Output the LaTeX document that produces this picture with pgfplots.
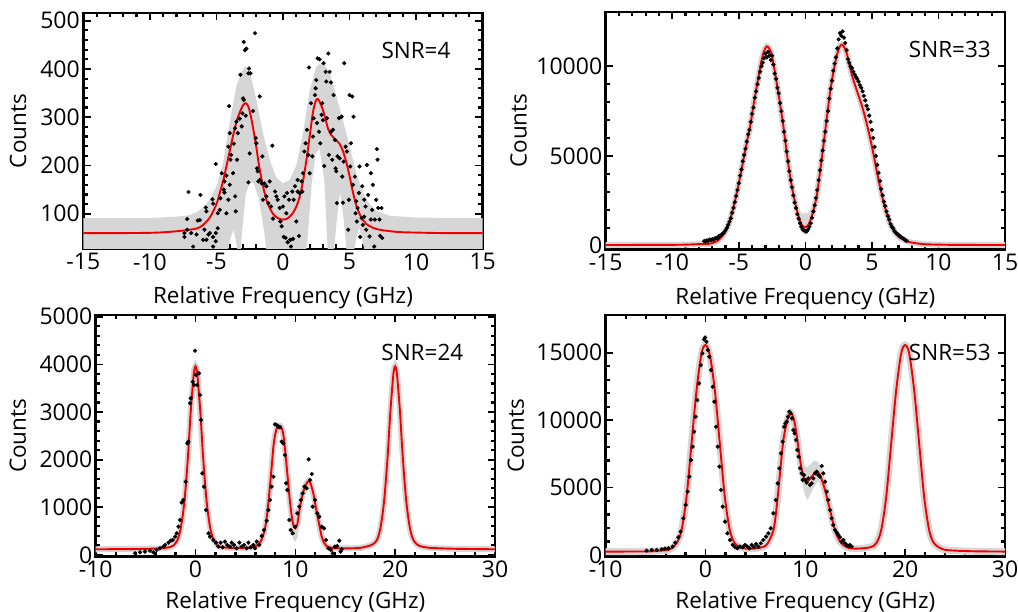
\documentclass[border=0pt]{standalone}
\usepackage{fontspec}
\setmainfont{Open Sans}[Numbers={Lining,Monospaced}]
\usepackage{pgfplots}
\pgfplotsset{compat=1.18}
\definecolor{band}{RGB}{214,214,214}
\definecolor{fitred}{RGB}{240,0,0}
\tikzset{snr/.style={font=\fontsize{22.5}{26}\selectfont}}
\pgfplotsset{
 panel/.style={
  scale only axis,
  axis line style={line width=2.9pt},
  major tick style={black, line width=1.7pt},
  minor tick style={black, line width=2.2pt},
  major tick length=7.5pt, minor tick length=4.5pt,
  minor tick num=4,
  tick align=inside, xtick pos=both, ytick pos=both,
  xticklabel style={font=\fontsize{23}{27}\selectfont, yshift=-1pt},
  yticklabel style={font=\fontsize{23}{27}\selectfont},
  label style={font=\fontsize{22.5}{26}\selectfont},
  xlabel={Relative Frequency (GHz)}, ylabel={Counts},
  scaled ticks=false,
 },
 pts/.style={only marks, mark=*, mark size=1.9pt, black},
 fit/.style={fitred, line width=1.9pt, no marks, smooth},
 halo/.style={band, line width=6pt, no marks, smooth},
}
\begin{document}
\begin{tikzpicture}
\useasboundingbox (0,0) rectangle (1018pt,612pt);
% ---------------- top left: SNR=4
\begin{axis}[panel, at={(83.3pt,363pt)}, anchor=south west, width=399.4pt, height=236pt,
  xmin=-15, xmax=15, ymin=27, ymax=516,
  xlabel style={at={(axis description cs:0.5,0)}, anchor=north, yshift=-34pt},
  ylabel style={at={(axis description cs:-0.163,0.5)}, anchor=center},
  xtick={-15,-10,-5,0,5,10,15}, xticklabels={-15,-10,-5,0,5,10,15},
  ytick={100,200,300,400,500}, yticklabels={100,200,300,400,500}]
\addplot[fill=band, draw=none] coordinates {
(-15,91)(-10,91)(-8,94)(-7,97)(-6.5,103)(-6,112)(-5.5,130)(-5,157)(-4.5,205)(-4,290)(-3.5,365)(-3.0,400)(-2.8,405)(-2.5,394)(-2,336)(-1.5,267)(-1,212)(-0.5,175)(0,163)(0.5,170)(1,200)(1.5,267)(2,355)(2.5,405)(3,415)(3.5,392)(4,345)(4.5,294)(5,240)(5.5,185)(6,143)(6.5,120)(7,106)(8,96)(10,92)(15,91)
(15,0)(6.3,0)(6.0,40)(5.75,71)(5.5,50)(5.2,0)(4.85,0)(4.55,90)(4.3,145)(4.05,90)(3.75,0)(3.4,0)(3.1,170)(2.75,235)(2.45,225)(2.15,160)(1.85,50)(1.65,0)(-1.15,0)(-1.4,60)(-1.8,130)(-2.2,163)(-2.5,165)(-2.8,140)(-3.05,70)(-3.25,0)(-3.45,30)(-3.7,68)(-3.95,50)(-4.3,0)(-15,0)};
\addplot[pts] coordinates {
(-7.4,60)(-7.4,52)(-7.2,67)(-7.2,89)(-7.1,145)(-6.9,60)(-6.75,32)(-6.5,57)(-6.4,86)(-6.25,87)(-6.2,139)(-6.0,46)(-5.9,67)(-5.75,46)(-5.6,57)(-5.5,60)(-5.8,113)(-5.75,105)(-5.25,52)(-5.25,32)(-5.05,43)(-5.05,60)(-4.9,70)(-5.3,130)(-5.25,121)(-5.05,203)(-4.9,101)(-4.75,108)(-4.7,132)(-4.6,184)(-4.45,150)(-4.4,144)(-4.4,167)(-4.25,179)(-4.1,239)(-4.05,323)(-4.0,267)(-3.95,212)(-3.9,222)(-3.75,184)(-3.7,245)(-3.6,277)(-3.55,105)(-3.5,291)(-3.45,212)(-3.4,267)(-3.25,297)(-3.2,388)(-3.1,281)(-3.0,339)(-2.95,456)(-2.85,439)(-2.8,303)(-2.75,442)(-2.6,391)(-2.55,401)(-2.6,165)(-2.5,225)(-2.45,391)(-2.25,313)(-2.1,474)(-2.05,257)(-2.0,246)(-1.95,194)(-1.9,188)(-1.85,167)(-1.75,343)(-1.6,163)(-1.55,219)(-1.5,129)(-1.4,163)(-1.25,136)(-1.1,122)(-1.0,167)(-0.9,115)(-0.8,241)(-0.75,90)(-0.6,146)(-0.5,136)(-0.4,129)(-0.25,112)(-0.2,84)(-0.1,74)(0.0,115)(0.05,52)(0.1,136)(0.2,50)(0.25,101)(0.3,143)(0.35,41)(0.45,129)(0.55,46)(0.6,32)(0.7,146)(0.75,48)(0.8,129)(0.9,157)(1.0,84)(1.1,146)(1.1,170)(1.2,54)(1.25,143)(1.4,167)(1.45,146)(1.5,184)(1.6,229)(1.7,246)(1.8,274)(1.9,222)(1.95,403)(2.0,184)(2.1,329)(2.2,219)(2.25,260)(2.3,298)(2.4,346)(2.45,360)(2.5,377)(2.55,288)(2.6,422)(2.7,270)(2.75,420)(2.8,246)(2.9,305)(2.95,329)(3.0,294)(3.05,412)(3.1,199)(3.2,394)(3.25,374)(3.3,298)(3.4,432)(3.45,222)(3.5,394)(3.6,270)(3.6,372)(3.7,212)(3.75,274)(3.8,346)(3.9,253)(3.95,194)(4.0,188)(4.05,122)(4.1,219)(4.2,298)(4.25,215)(4.4,301)(4.45,177)(4.5,123)(4.55,208)(4.6,412)(4.7,239)(4.8,229)(4.9,67)(4.95,129)(5.0,346)(5.05,198)(5.1,246)(5.2,343)(5.25,160)(5.3,301)(5.4,177)(5.45,101)(5.5,126)(5.55,84)(5.6,112)(5.7,143)(5.75,198)(5.8,52)(5.9,91)(5.95,157)(6.0,77)(6.1,129)(6.1,94)(6.2,115)(6.25,67)(6.3,201)(6.4,139)(6.5,53)(6.6,88)(6.6,184)(6.7,108)(6.75,160)(6.85,32)(6.9,88)(7.0,129)(7.05,234)(7.1,212)(7.15,112)(7.25,88)(7.3,54)(7.4,112)(7.45,50)(-3.6,136)(-4.25,101)(-4.1,129)(-4.0,160)(-2.95,336)(-3.05,308)(-1.75,170)(-1.25,157)};
\addplot[fit] coordinates {
(-15,60)(-12,60)(-10,60.5)(-8.75,62)(-7.25,66)(-6.25,72)(-5.5,92)(-5,120)(-4.75,143)(-4.5,168)(-4.25,198)(-4,230)(-3.75,262)(-3.5,290)(-3.25,310)(-3.0,325)(-2.8,329)(-2.6,322)(-2.4,300)(-2.2,270)(-2.0,237)(-1.8,200)(-1.6,170)(-1.4,145)(-1.2,125)(-1.0,112)(-0.75,100)(-0.5,93)(-0.25,89)(0,88)(0.25,89)(0.5,94)(0.75,102)(1.0,115)(1.25,135)(1.5,167)(1.75,210)(2.0,260)(2.25,310)(2.45,333)(2.6,338)(2.75,332)(3.0,315)(3.2,295)(3.4,275)(3.6,264)(3.8,258)(4.0,252)(4.25,245)(4.5,230)(4.75,207)(5.0,178)(5.25,145)(5.5,118)(5.75,100)(6.0,87)(6.25,79)(6.75,71)(7.25,67)(8,64)(8.75,62)(10,61)(12,60)(15,60)};
\node[snr] at (rel axis cs:0.833,0.84) {SNR=4};
\end{axis}
% ---------------- top right: SNR=33
\begin{axis}[panel, at={(605.7pt,362.5pt)}, anchor=south west, width=399.3pt, height=237.5pt,
  xmin=-15, xmax=15, ymin=-220, ymax=13030,
  xlabel style={at={(axis description cs:0.5,0)}, anchor=north, yshift=-34pt},
  ylabel style={at={(axis description cs:-0.218,0.5)}, anchor=center},
  xtick={-15,-10,-5,0,5,10,15}, xticklabels={-15,-10,-5,0,5,10,15},
  ytick={0,5000,10000}, yticklabels={0,5000,10000}]
\addplot[fill=band, draw=none] coordinates {
(-0.9,2900)(-0.6,2200)(-0.3,1800)(0,1800)(0.3,1850)(0.6,2300)(0.9,3000)
(0.9,2500)(0.6,1500)(0.3,900)(0,600)(-0.3,750)(-0.6,1400)(-0.9,2300)};
\addplot[halo] coordinates {
(-15,30)(-12,35)(-10,40)(-9,50)(-8,80)(-7.2,100)(-6.9,160)(-6.65,240)(-6.4,400)(-6.15,610)(-5.9,960)(-5.65,1450)(-5.4,2150)(-5.15,2940)(-4.9,3850)(-4.65,4800)(-4.4,5750)(-4.15,6650)(-3.9,7800)(-3.65,8880)(-3.45,9700)(-3.28,10370)(-3.1,10850)(-2.9,11110)(-2.7,10980)(-2.53,10650)(-2.35,9950)(-2.15,9070)(-1.9,7900)(-1.65,6650)(-1.4,5200)(-1.15,3870)(-0.9,2850)(-0.65,2010)(-0.45,1500)(-0.28,1170)(-0.1,1040)(0.02,1020)(0.2,1130)(0.35,1360)(0.6,1950)(0.85,2750)(1.1,4100)(1.35,5540)(1.6,7050)(1.85,8510)(2.1,9650)(2.35,10560)(2.55,11050)(2.73,11210)(2.9,11100)(3.1,10740)(3.35,9950)(3.6,9260)(3.85,8700)(4.1,8140)(4.35,7550)(4.6,6840)(4.85,6050)(5.1,5170)(5.35,4200)(5.6,3310)(5.85,2500)(6.1,1820)(6.35,1280)(6.6,890)(6.85,620)(7.1,430)(7.5,280)(7.85,190)(8.5,110)(9.1,70)(10.4,45)(12,35)(15,30)};
\addplot[pts] coordinates {
(-7.6,250)(-7.5,220)(-7.4,290)(-7.3,260)(-7.2,330)(-7.1,300)(-7.0,350)(-6.9,310)(-6.8,400)(-6.7,420)(-6.6,380)(-6.5,520)(-6.4,560)(-6.3,600)(-6.2,680)(-6.1,720)(-6.0,850)(-5.9,980)(-5.8,1150)(-5.7,1330)(-5.6,1520)(-5.5,1830)(-5.4,2100)(-5.3,2420)(-5.2,2760)(-5.1,3100)(-5.0,3480)(-4.9,3900)(-4.8,4250)(-4.7,4700)(-4.6,5050)(-4.5,5400)(-4.4,5800)(-4.3,6200)(-4.2,6450)(-4.1,6900)(-4.0,7350)(-3.9,7700)(-3.8,8250)(-3.7,8600)(-3.6,9000)(-3.5,9350)(-3.4,9700)(-3.3,10000)(-3.2,10200)(-3.1,10450)(-3.0,10700)(-2.9,10500)(-2.8,10800)(-2.7,10600)(-2.6,10350)(-2.5,10600)(-2.4,10100)(-2.3,9600)(-2.2,9300)(-2.1,8800)(-2.0,8500)(-1.9,7950)(-1.8,7500)(-1.7,6950)(-1.6,6350)(-1.5,5850)(-1.4,5250)(-1.3,4700)(-1.2,4150)(-1.1,3650)(-1.0,3250)(-0.9,2800)(-0.8,2400)(-0.7,2100)(-0.6,1750)(-0.5,1500)(-0.4,1250)(-0.3,1050)(-0.2,900)(-0.1,850)(0.0,800)(0.1,780)(0.2,900)(0.3,1050)(0.4,1250)(0.5,1550)(0.6,1900)(0.7,2250)(0.8,2650)(0.9,3100)(1.0,3650)(1.1,4200)(1.2,4750)(1.3,5300)(1.4,5850)(1.5,6350)(1.6,6950)(1.7,7500)(1.8,8200)(1.9,8750)(2.0,9200)(2.1,9750)(2.2,10150)(2.3,10500)(2.4,11000)(2.5,11500)(2.6,11850)(2.7,11700)(2.8,11950)(2.9,11600)(3.0,11300)(3.1,10900)(3.2,10400)(3.3,10200)(3.4,10000)(3.5,9900)(3.6,9700)(3.7,9550)(3.8,9400)(3.9,9300)(4.0,9150)(4.1,8950)(4.2,8800)(4.3,8600)(4.4,8350)(4.5,8100)(4.6,7800)(4.7,7600)(4.8,7250)(4.9,6900)(5.0,6450)(5.1,6000)(5.2,5500)(5.3,5000)(5.4,4500)(5.5,4050)(5.6,3600)(5.7,3150)(5.8,2800)(5.9,2450)(6.0,2200)(6.1,1900)(6.2,1650)(6.3,1450)(6.4,1200)(6.5,1050)(6.6,950)(6.7,800)(6.8,700)(6.9,650)(7.0,600)(7.1,520)(7.2,480)(7.3,420)(7.4,380)(7.5,300)(7.6,260)};
\addplot[fit] coordinates {
(-15,30)(-12,35)(-10,40)(-9,50)(-8,80)(-7.2,100)(-6.9,160)(-6.65,240)(-6.4,400)(-6.15,610)(-5.9,960)(-5.65,1450)(-5.4,2150)(-5.15,2940)(-4.9,3850)(-4.65,4800)(-4.4,5750)(-4.15,6650)(-3.9,7800)(-3.65,8880)(-3.45,9700)(-3.28,10370)(-3.1,10850)(-2.9,11110)(-2.7,10980)(-2.53,10650)(-2.35,9950)(-2.15,9070)(-1.9,7900)(-1.65,6650)(-1.4,5200)(-1.15,3870)(-0.9,2850)(-0.65,2010)(-0.45,1500)(-0.28,1170)(-0.1,1040)(0.02,1020)(0.2,1130)(0.35,1360)(0.6,1950)(0.85,2750)(1.1,4100)(1.35,5540)(1.6,7050)(1.85,8510)(2.1,9650)(2.35,10560)(2.55,11050)(2.73,11210)(2.9,11100)(3.1,10740)(3.35,9950)(3.6,9260)(3.85,8700)(4.1,8140)(4.35,7550)(4.6,6840)(4.85,6050)(5.1,5170)(5.35,4200)(5.6,3310)(5.85,2500)(6.1,1820)(6.35,1280)(6.6,890)(6.85,620)(7.1,430)(7.5,280)(7.85,190)(8.5,110)(9.1,70)(10.4,45)(12,35)(15,30)};
\node[snr] at (rel axis cs:0.862,0.842) {SNR=33};
\end{axis}
% ---------------- bottom left: SNR=24
\begin{axis}[panel, at={(95.7pt,55.3pt)}, anchor=south west, width=399.3pt, height=241.7pt,
  xmin=-10, xmax=30, ymin=-36, ymax=5036,
  xlabel style={at={(axis description cs:0.5,0)}, anchor=north, yshift=-31pt},
  ylabel style={at={(axis description cs:-0.195,0.5)}, anchor=center},
  xtick={-10,0,10,20,30}, xticklabels={-10,0,10,20,30},
  ytick={0,1000,2000,3000,4000,5000}, yticklabels={0,1000,2000,3000,4000,5000}]
\addplot[fill=band, draw=none] coordinates {
(9.5,1200)(9.8,1000)(10.0,950)(10.2,1000)(10.5,1350)
(10.5,750)(10.2,350)(10.0,280)(9.8,330)(9.5,700)};
\addplot[halo] coordinates {
(-10,120)(-6,125)(-4,135)(-3,150)(-2.5,170)(-2.2,200)(-1.9,280)(-1.7,380)(-1.5,540)(-1.3,800)(-1.1,1150)(-0.9,1650)(-0.7,2250)(-0.5,2950)(-0.3,3500)(-0.15,3850)(0,3960)(0.15,3850)(0.3,3500)(0.5,2950)(0.7,2250)(0.9,1650)(1.1,1150)(1.3,800)(1.5,540)(1.7,380)(1.9,280)(2.2,200)(2.6,165)(3.5,150)(5,150)(5.8,165)(6.3,220)(6.6,315)(6.9,500)(7.1,734)(7.3,1100)(7.45,1434)(7.65,1900)(7.8,2273)(8.0,2550)(8.2,2680)(8.4,2710)(8.5,2706)(8.65,2650)(8.8,2520)(9.0,2150)(9.2,1700)(9.47,1100)(9.65,800)(9.8,630)(10.0,560)(10.2,650)(10.47,1014)(10.7,1250)(10.97,1434)(11.2,1530)(11.35,1552)(11.5,1520)(11.8,1294)(12.05,1000)(12.3,734)(12.64,385)(12.9,250)(13.1,190)(13.8,145)(15.5,140)(16.5,150)(17.1,175)(17.5,200)(17.8,230)(18.1,290)(18.3,380)(18.5,540)(18.7,800)(18.9,1150)(19.1,1650)(19.3,2250)(19.5,2950)(19.7,3500)(19.85,3850)(20,3960)(20.15,3850)(20.3,3500)(20.5,2950)(20.7,2250)(20.9,1650)(21.1,1150)(21.3,800)(21.5,540)(21.7,380)(21.9,290)(22.2,220)(22.6,180)(23.5,150)(26,130)(30,120)};
\addplot[pts] coordinates {
(-6.06,35)(-5.56,56)(-5.06,70)(-4.56,91)(-4.22,56)(-3.89,105)(-3.56,140)(-3.22,175)(-3.05,210)(-2.72,259)(-2.49,300)(-2.29,315)(-2.05,385)(-1.89,455)(-1.72,594)(-1.55,734)(-1.39,1100)(-1.22,1154)(-0.98,1538)(-0.82,2343)(-0.72,2378)(-0.55,3182)(-0.48,3287)(-0.28,3636)(-0.15,3566)(-0.05,4287)(0.05,3776)(0.18,3566)(0.35,3811)(0.45,3357)(0.55,2832)(0.68,1713)(0.85,1434)(1.05,944)(1.29,455)(1.45,385)(1.79,315)(2.05,259)(2.29,175)(2.52,259)(2.72,161)(2.95,280)(3.19,210)(3.46,175)(3.62,259)(3.86,210)(4.12,140)(4.39,259)(4.62,175)(4.86,210)(5.13,140)(5.29,259)(5.53,161)(5.79,210)(5.96,140)(6.13,280)(6.39,210)(6.63,399)(6.86,524)(7.13,720)(7.3,944)(7.46,1154)(7.63,1434)(7.8,1643)(7.96,2741)(8.13,2727)(8.3,2692)(8.46,2678)(8.63,2378)(8.8,2343)(8.96,2098)(9.07,1503)(9.2,1364)(9.4,734)(9.53,524)(9.73,455)(9.97,594)(10.2,874)(10.4,1014)(10.57,1154)(10.73,1294)(10.9,1434)(11.13,1399)(11.34,2007)(11.47,1573)(11.64,1699)(11.74,1014)(11.97,1154)(12.2,874)(12.4,804)(12.64,594)(12.87,559)(13.07,315)(13.3,140)(13.54,105)(13.74,35)(13.97,175)(14.2,189)(14.4,300)(14.54,70)(14.64,119)};
\addplot[fit] coordinates {
(-10,120)(-6,125)(-4,135)(-3,150)(-2.5,170)(-2.2,200)(-1.9,280)(-1.7,380)(-1.5,540)(-1.3,800)(-1.1,1150)(-0.9,1650)(-0.7,2250)(-0.5,2950)(-0.3,3500)(-0.15,3850)(0,3960)(0.15,3850)(0.3,3500)(0.5,2950)(0.7,2250)(0.9,1650)(1.1,1150)(1.3,800)(1.5,540)(1.7,380)(1.9,280)(2.2,200)(2.6,165)(3.5,150)(5,150)(5.8,165)(6.3,220)(6.6,315)(6.9,500)(7.1,734)(7.3,1100)(7.45,1434)(7.65,1900)(7.8,2273)(8.0,2550)(8.2,2680)(8.4,2710)(8.5,2706)(8.65,2650)(8.8,2520)(9.0,2150)(9.2,1700)(9.47,1100)(9.65,800)(9.8,630)(10.0,560)(10.2,650)(10.47,1014)(10.7,1250)(10.97,1434)(11.2,1530)(11.35,1552)(11.5,1520)(11.8,1294)(12.05,1000)(12.3,734)(12.64,385)(12.9,250)(13.1,190)(13.8,145)(15.5,140)(16.5,150)(17.1,175)(17.5,200)(17.8,230)(18.1,290)(18.3,380)(18.5,540)(18.7,800)(18.9,1150)(19.1,1650)(19.3,2250)(19.5,2950)(19.7,3500)(19.85,3850)(20,3960)(20.15,3850)(20.3,3500)(20.5,2950)(20.7,2250)(20.9,1650)(21.1,1150)(21.3,800)(21.5,540)(21.7,380)(21.9,290)(22.2,220)(22.6,180)(23.5,150)(26,130)(30,120)};
\node[snr] at (rel axis cs:0.818,0.844) {SNR=24};
\end{axis}
% ---------------- bottom right: SNR=53
\begin{axis}[panel, at={(605.7pt,55.3pt)}, anchor=south west, width=399.3pt, height=241.7pt,
  xmin=-10, xmax=30, ymin=-130, ymax=17800,
  xlabel style={at={(axis description cs:0.5,0)}, anchor=north, yshift=-31pt},
  ylabel style={at={(axis description cs:-0.225,0.5)}, anchor=center},
  xtick={-10,0,10,20,30}, xticklabels={-10,0,10,20,30},
  ytick={0,5000,10000,15000}, yticklabels={0,5000,10000,15000}]
\addplot[fill=band, draw=none] coordinates {
(9.5,7400)(9.8,6800)(10.1,6500)(10.5,6700)(10.9,7000)(11.3,6900)(11.7,6300)
(11.7,5200)(11.3,5500)(10.9,5100)(10.5,4500)(10.2,4050)(9.9,4600)(9.5,6000)};
\addplot[halo, line width=7pt] coordinates {
(-10,250)(-6,260)(-4.5,320)(-3.55,420)(-2.9,865)(-2.4,1850)(-1.9,4320)(-1.4,8280)(-0.9,12230)(-0.4,14950)(0,15570)(0.43,14830)(0.93,12230)(1.43,8280)(1.93,4320)(2.43,1850)(2.94,865)(3.8,494)(5.1,494)(6.1,740)(6.8,1850)(7.13,3580)(7.46,6050)(7.8,8520)(8.2,10000)(8.53,10550)(8.87,10000)(9.2,8520)(9.53,6800)(9.87,5680)(10.2,5440)(10.63,5810)(11.13,6180)(11.47,5930)(11.97,4820)(12.47,3340)(12.97,1850)(13.47,990)(14.14,570)(15.14,470)(16.5,570)(17.1,865)(17.6,1850)(18.1,4320)(18.6,8280)(19.1,12230)(19.6,14950)(20,15570)(20.4,14950)(20.9,12230)(21.4,8280)(21.9,4320)(22.4,1850)(22.9,865)(23.8,420)(25,320)(27,270)(30,250)};
\addplot[pts] coordinates {
(-5.9,321)(-5.39,371)(-4.89,371)(-4.39,420)(-4.06,470)(-3.72,494)(-3.29,618)(-3.05,914)(-2.72,1310)(-2.49,1730)(-2.22,2718)(-1.99,3706)(-1.79,4695)(-1.62,5807)(-1.45,7042)(-1.29,8031)(-1.15,9143)(-0.98,10255)(-0.82,11490)(-0.65,12725)(-0.48,14084)(-0.32,14949)(-0.15,15987)(-0.03,16135)(0.1,15814)(0.23,15196)(0.38,14702)(0.55,13714)(0.72,12478)(0.88,11367)(1.05,9513)(1.22,8031)(1.39,6548)(1.55,4818)(1.72,3583)(1.95,2471)(2.19,1606)(2.45,1112)(2.72,741)(2.95,568)(3.19,494)(3.46,618)(3.72,568)(3.96,741)(4.19,618)(4.39,494)(4.62,741)(4.86,568)(5.06,815)(5.29,618)(5.53,865)(5.79,1112)(6.06,1359)(6.29,1606)(6.53,1977)(6.79,3089)(7.03,4077)(7.23,5313)(7.4,6425)(7.56,7536)(7.73,8401)(7.86,9513)(8.0,9760)(8.13,9884)(8.26,10255)(8.4,10625)(8.53,10502)(8.66,10131)(8.8,9266)(8.93,9019)(9.06,8525)(9.2,7784)(9.33,7289)(9.47,6425)(9.63,6054)(9.73,5560)(9.87,5930)(10.0,5560)(10.13,5362)(10.3,5683)(10.47,5189)(10.63,5313)(10.8,5683)(10.97,6054)(11.13,6178)(11.3,5930)(11.47,5807)(11.64,6597)(11.8,6054)(11.97,5436)(12.14,4695)(12.3,4077)(12.47,3336)(12.64,2718)(12.8,2224)(12.97,1853)(13.14,1656)(13.3,1483)(13.47,1310)(13.64,988)(13.81,1112)(13.97,865)(14.14,741)(14.31,667)(14.47,741)(14.64,618)};
\addplot[fit] coordinates {
(-10,250)(-6,260)(-4.5,320)(-3.55,420)(-2.9,865)(-2.4,1850)(-1.9,4320)(-1.4,8280)(-0.9,12230)(-0.4,14950)(0,15570)(0.43,14830)(0.93,12230)(1.43,8280)(1.93,4320)(2.43,1850)(2.94,865)(3.8,494)(5.1,494)(6.1,740)(6.8,1850)(7.13,3580)(7.46,6050)(7.8,8520)(8.2,10000)(8.53,10550)(8.87,10000)(9.2,8520)(9.53,6800)(9.87,5680)(10.2,5440)(10.63,5810)(11.13,6180)(11.47,5930)(11.97,4820)(12.47,3340)(12.97,1850)(13.47,990)(14.14,570)(15.14,470)(16.5,570)(17.1,865)(17.6,1850)(18.1,4320)(18.6,8280)(19.1,12230)(19.6,14950)(20,15570)(20.4,14950)(20.9,12230)(21.4,8280)(21.9,4320)(22.4,1850)(22.9,865)(23.8,420)(25,320)(27,270)(30,250)};
\node[snr] at (rel axis cs:0.862,0.844) {SNR=53};
\end{axis}
\end{tikzpicture}
\end{document}
